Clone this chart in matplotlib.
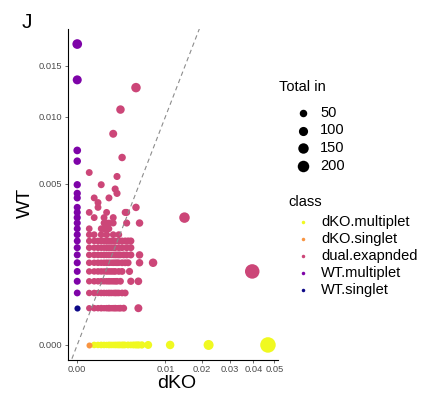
import numpy as np
import matplotlib
matplotlib.use("Agg")
import matplotlib.pyplot as plt

plt.rcParams["font.family"] = ["Liberation Sans", "DejaVu Sans"]

W, H, DPI = 445, 394, 100

# counts are divided by these to give the plotted fractions
KO_TOTAL = 5400
WT_TOTAL = 3850

CLASSES = ["dKO.multiplet", "dKO.singlet", "dual.exapnded", "WT.multiplet", "WT.singlet"]
COLORS = ["#F0F921", "#F89441", "#CC4678", "#7E03A8", "#0D0887"]
SIZE_BREAKS = [50, 100, 150, 200]

X_TICKS = [0.0, 0.01, 0.02, 0.03, 0.04, 0.05]
X_TICKLABELS = ["0.00", "0.01", "0.02", "0.03", "0.04", "0.05"]
Y_TICKS = [0.0, 0.005, 0.010, 0.015]
Y_TICKLABELS = ["0.000", "0.005", "0.010", "0.015"]

# dKO.multiplet (WT count 0)
dko_multi_ko = [2, 3, 4, 5, 6, 7, 8, 9, 10, 11, 12, 13, 14, 15, 16, 18, 20, 22, 24, 26, 29,
                35, 60, 120, 253]
dko_multi_total = [30, 28, 32, 30, 27, 33, 30, 29, 31, 30, 34, 30, 32, 35, 30, 36, 33, 38, 40, 45, 45,
                   63, 78, 132, 450]

# dKO.singlet
dko_single_ko = [1]
dko_single_total = [20]

# dual.exapnded, written row by row (WT count, then dKO counts)
dual_wt = ([1] * 15 + [2] * 14 + [3] * 14 + [4] * 14 + [5] * 17 + [6] * 17 + [7] * 14 + [8] * 15
           + [9] * 6 + [10] * 5 + [11] * 6 + [12] * 4 + [13] * 4 + [14] * 2
           + [15, 16, 16, 17, 18, 19, 21, 22, 26, 33, 41, 49])
dual_ko = [1, 2, 3, 4, 5, 6, 7, 8, 9, 10, 11, 12, 13, 15, 26,
           1, 2, 3, 4, 5, 6, 7, 8, 9, 10, 11, 12, 14, 16,
           1, 2, 3, 4, 5, 6, 7, 8, 9, 10, 11, 13, 20, 26,
           1, 2, 3, 4, 5, 6, 7, 8, 9, 10, 12, 14, 19, 213,
           1, 2, 3, 4, 5, 6, 7, 8, 9, 10, 11, 12, 14, 16, 18, 27, 40,
           1, 2, 3, 4, 5, 6, 7, 8, 9, 10, 11, 12, 13, 15, 17, 20, 27,
           1, 2, 3, 4, 5, 6, 7, 8, 9, 10, 12, 14, 17, 20,
           1, 2, 3, 4, 5, 6, 7, 8, 9, 10, 12, 14, 16, 18, 20,
           1, 2, 4, 6, 9, 12,
           1, 4, 5, 6, 7,
           5, 6, 7, 9, 17, 27,
           2, 5, 9, 80,
           1, 6, 16, 17,
           3, 24,
           3, 2, 7, 11, 10, 4, 11, 1, 14, 9, 13, 24]
dual_total = [25, 30, 28, 32, 27, 30, 35, 28, 30, 33, 28, 30, 34, 38, 63,
              28, 30, 27, 31, 30, 29, 32, 30, 28, 33, 30, 31, 34, 36,
              27, 30, 29, 31, 28, 30, 32, 29, 30, 31, 33, 35, 45, 55,
              28, 29, 31, 30, 27, 32, 30, 31, 29, 33, 34, 36, 42, 378,
              30, 28, 31, 29, 30, 32, 30, 28, 31, 30, 33, 31, 35, 36, 38, 50, 78,
              29, 31, 30, 28, 32, 30, 31, 29, 30, 33, 31, 34, 32, 36, 38, 40, 50,
              30, 28, 31, 30, 29, 32, 30, 31, 28, 33, 34, 36, 38, 40,
              28, 30, 31, 29, 30, 32, 31, 30, 29, 33, 34, 36, 38, 40, 40,
              30, 32, 34, 36, 33, 35,
              32, 34, 36, 35, 33,
              35, 36, 34, 36, 40, 50,
              35, 36, 38, 153,
              34, 36, 40, 40,
              36, 50,
              38, 36, 38, 42, 40, 38, 40, 36, 50, 63, 78, 112]

# WT.multiplet (dKO count 0)
wt_multi_wt = [2, 3, 4, 5, 6, 7, 8, 9, 10, 11, 12, 13, 14, 16, 17, 19, 25, 28, 52, 67]
wt_multi_total = [35, 38, 36, 40, 38, 40, 37, 40, 38, 40, 42, 40, 40, 42, 44, 45, 50, 55, 95, 120]

# WT.singlet
wt_single_wt = [1]
wt_single_total = [22]


def diam_px(total):
    return 3.5 + 0.566 * np.sqrt(np.asarray(total, dtype=float))


def area(total):
    return (diam_px(total) * 72.0 / DPI) ** 2


def fwd(v):
    v = np.asarray(v, dtype=float)
    return np.sign(v) * np.sqrt(np.abs(v))


def inv(v):
    v = np.asarray(v, dtype=float)
    return np.sign(v) * v ** 2


series = [
    (np.array(dko_multi_ko) / KO_TOTAL, np.zeros(len(dko_multi_ko)), dko_multi_total),
    (np.array(dko_single_ko) / KO_TOTAL, np.zeros(len(dko_single_ko)), dko_single_total),
    (np.array(dual_ko) / KO_TOTAL, np.array(dual_wt) / WT_TOTAL, dual_total),
    (np.zeros(len(wt_multi_wt)), np.array(wt_multi_wt) / WT_TOTAL, wt_multi_total),
    (np.zeros(len(wt_single_wt)), np.array(wt_single_wt) / WT_TOTAL, wt_single_total),
]

fig = plt.figure(figsize=(W / DPI, H / DPI), dpi=DPI)
ax = fig.add_axes([67.7 / W, 1 - 360 / H, (277.5 - 67.7) / W, (360 - 29) / H])
ax.set_xscale("function", functions=(fwd, inv))
ax.set_yscale("function", functions=(fwd, inv))

for (xs, ys, tot), col in zip(series, COLORS):
    ax.scatter(xs, ys, s=area(tot), c=col, linewidths=0, zorder=2)

# ggplot-like 5% expansion in sqrt space
all_x = np.concatenate([s[0] for s in series])
all_y = np.concatenate([s[1] for s in series])
xmax, ymax = np.sqrt(all_x.max()), np.sqrt(all_y.max())
ax.set_xlim(inv(-0.05 * xmax), inv(1.05 * xmax))
ax.set_ylim(inv(-0.05 * ymax), inv(1.05 * ymax))

# identity line
ax.plot([-0.01, 0.1], [-0.01, 0.1], color="#8c8c8c", lw=0.8, ls=(0, (4, 3)), zorder=3)

ax.set_xticks(X_TICKS)
ax.set_xticklabels(X_TICKLABELS)
ax.set_yticks(Y_TICKS)
ax.set_yticklabels(Y_TICKLABELS)
ax.minorticks_off()
ax.tick_params(length=2.2, width=0.5, color="#333333", labelcolor="#4D4D4D",
               labelsize=6.7, pad=1.6)
for side in ["top", "right"]:
    ax.spines[side].set_visible(False)
for side in ["left", "bottom"]:
    ax.spines[side].set_linewidth(0.8)
    ax.spines[side].set_color("black")

fig.text(22 / W, 1 - 22 / H, "J", fontsize=15, ha="left", va="center")
fig.text(25 / W, 1 - 203 / H, "WT", fontsize=14, rotation=90, ha="center", va="center")
fig.text(177 / W, 1 - 384 / H, "dKO", fontsize=14, ha="center", va="center")

# legends drawn in pixel coordinates
lax = fig.add_axes([0, 0, 1, 1])
lax.set_xlim(0, W)
lax.set_ylim(H, 0)
lax.axis("off")
lax.patch.set_alpha(0)

lax.text(279, 87, "Total in", fontsize=10.5, ha="left", va="center")
for i, b in enumerate(SIZE_BREAKS):
    y = 112.7 + i * 17.8
    lax.scatter([303.3], [y], s=area(b), c="black", linewidths=0)
    lax.text(320, y, str(b), fontsize=10.5, ha="left", va="center")

lax.text(288, 201.5, "class", fontsize=10.5, ha="left", va="center")
for i, (name, col) in enumerate(zip(CLASSES, COLORS)):
    y = 221.7 + i * 17.1
    lax.scatter([303.3], [y], s=(3.5 * 72 / DPI) ** 2, c=col, linewidths=0)
    lax.text(321, y, name, fontsize=10.5, ha="left", va="center")

fig.savefig("out.png", dpi=DPI)
